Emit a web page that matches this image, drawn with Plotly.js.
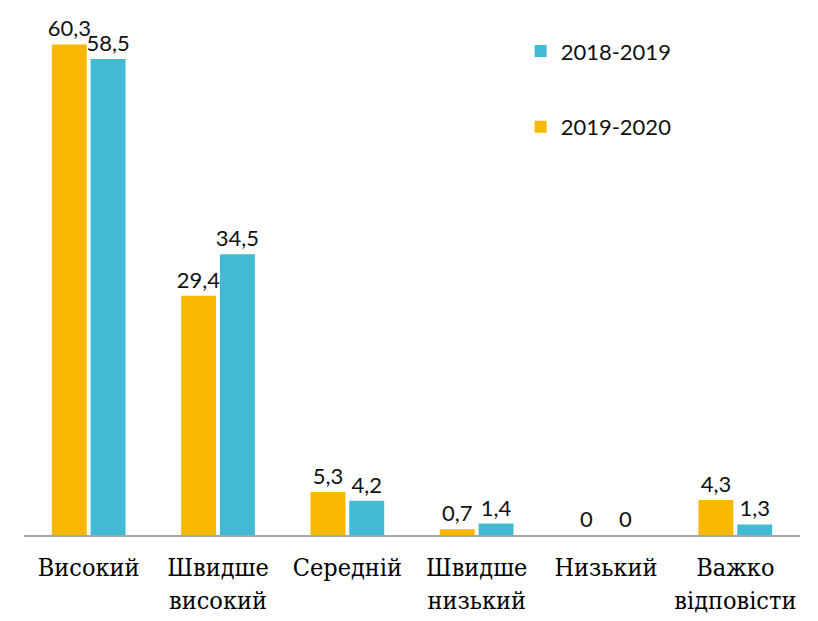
<!DOCTYPE html>
<html><head><meta charset="utf-8">
<script src="https://cdn.plot.ly/plotly-3.0.1.min.js"></script>
<style>body{margin:0;background:#fff}#c{width:818px;height:621px}</style>
</head><body><div id="c"></div>
<script>
const categories = ['Високий', 'Швидше<br>високий', 'Середній', 'Швидше<br>низький', 'Низький', 'Важко<br>відповісти'];
const seriesNames = ['2019-2020', '2018-2019'];
const values2019_2020 = [60.3, 29.4, 5.3, 0.7, 0, 4.3];
const values2018_2019 = [58.5, 34.5, 4.2, 1.4, 0, 1.3];
const colors = ['#F9B800', '#41BBD3'];

const fmt = v => String(v).replace('.', ',');
const labelFont = {family: 'Lato', size: 22, color: '#111'};

const traces = [values2019_2020, values2018_2019].map((vals, i) => ({
  type: 'bar', name: seriesNames[i], x: categories, y: vals,
  marker: {color: colors[i]},
  text: vals.map(fmt), textposition: 'outside', textfont: labelFont,
  constraintext: 'none', cliponaxis: false, legendgroup: 'g' + i,
  legendrank: 2 - i,
  hoverinfo: 'none'
}));

const layout = {
  width: 818, height: 621,
  margin: {l: 24, r: 18, t: 20, b: 86},
  barmode: 'group', bargap: 0.4, bargroupgap: 0.1,
  plot_bgcolor: '#fff', paper_bgcolor: '#fff',
  showlegend: true,
  legend: {x: 0.64, y: 0.98, xanchor: 'left', yanchor: 'top', traceorder: 'grouped',
    tracegroupgap: 44, font: {family: 'Lato', size: 22, color: '#111'},
    bgcolor: 'rgba(0,0,0,0)'},
  xaxis: {showline: true, linecolor: '#A6A6A6', linewidth: 2, ticks: '', showgrid: false,
    ticklabelstandoff: 9, tickangle: 0,
    tickfont: {family: 'DejaVu Serif Condensed, DejaVu Serif, serif', size: 25, color: '#000'}},
  yaxis: {range: [0, 63.3], visible: false, showgrid: false, zeroline: false}
};
Plotly.newPlot('c', traces, layout, {staticPlot: true});
</script>
</body></html>
